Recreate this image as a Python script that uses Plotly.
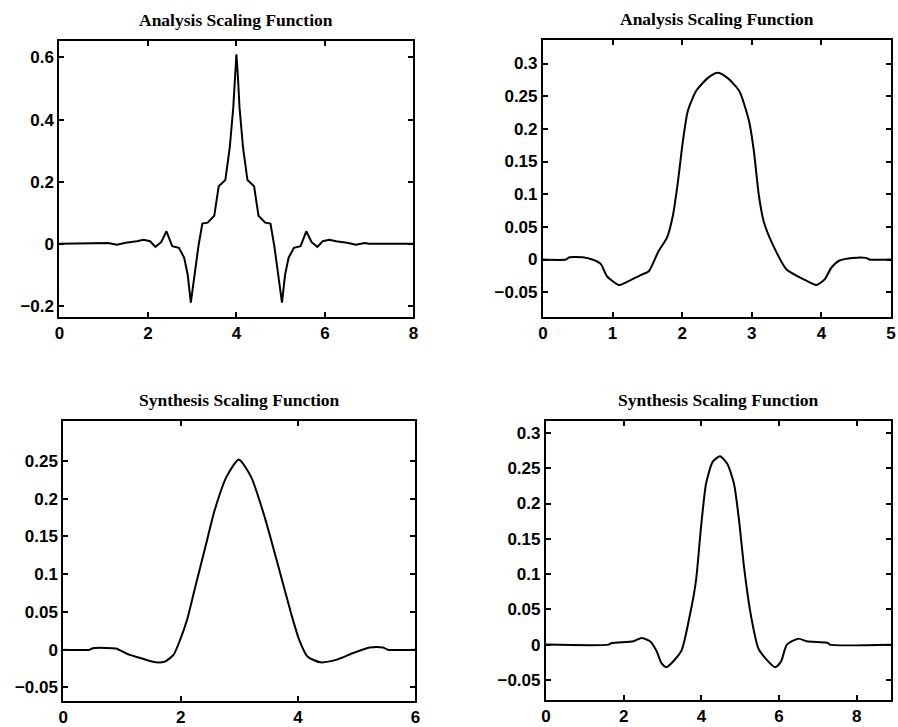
import plotly.graph_objects as go

W, H = 898, 727

# ---- data ----
a1_x = [0, 0.5, 1.0, 1.1, 1.3, 1.5, 1.75, 1.9, 2.05, 2.17, 2.3, 2.42, 2.55, 2.7, 2.82, 2.9, 2.97,
        3.05, 3.14, 3.23, 3.35, 3.5, 3.6, 3.75, 3.85, 3.93, 3.97, 4.0, 4.03, 4.07, 4.15, 4.25, 4.4,
        4.5, 4.65, 4.77, 4.86, 4.95, 5.03, 5.1, 5.18, 5.3, 5.45, 5.58, 5.7, 5.83, 5.95, 6.1, 6.25,
        6.5, 6.7, 6.9, 7.0, 8.0]
a1_y = [0, 0, 0, 0.002, -0.003, 0.003, 0.008, 0.013, 0.008, -0.01, 0.005, 0.040, -0.008, -0.013,
        -0.045, -0.10, -0.19, -0.10, -0.01, 0.065, 0.068, 0.09, 0.185, 0.205, 0.31, 0.44, 0.55, 0.61,
        0.55, 0.44, 0.31, 0.205, 0.185, 0.09, 0.068, 0.065, -0.01, -0.10, -0.19, -0.10, -0.045,
        -0.013, -0.008, 0.040, 0.005, -0.01, 0.008, 0.013, 0.008, 0.003, -0.003, 0.002, 0, 0]

a2_x = [0, 0.33, 0.38, 0.57, 0.71, 0.83, 0.92, 1.09, 1.23, 1.42, 1.52, 1.66, 1.78, 1.87, 1.94, 2.01,
        2.08, 2.20, 2.37, 2.51, 2.65, 2.82, 2.96, 3.03, 3.10, 3.17, 3.29, 3.50, 3.74, 3.93, 4.05,
        4.14, 4.26, 4.45, 4.64, 4.69, 5.0]
a2_y = [0, 0, 0.0035, 0.0035, 0, -0.0067, -0.0256, -0.039, -0.033, -0.023, -0.018, 0.0127, 0.033,
        0.069, 0.12, 0.181, 0.227, 0.258, 0.278, 0.286, 0.278, 0.258, 0.212, 0.166, 0.0995, 0.0587,
        0.0255, -0.0153, -0.030, -0.039, -0.030, -0.013, -0.0015, 0.0025, 0.0025, 0, 0]

s1_x = [0, 0.45, 0.5, 0.84, 0.9, 1.12, 1.35, 1.57, 1.74, 1.88, 1.99, 2.11, 2.25, 2.42, 2.58, 2.78,
        2.99, 3.20, 3.43, 3.65, 3.88, 4.02, 4.16, 4.38, 4.66, 4.94, 5.22, 5.45, 5.53, 6.0]
s1_y = [0, 0, 0.002, 0.002, 0.0015, -0.0066, -0.012, -0.0167, -0.0154, -0.0066, 0.013, 0.04, 0.0837,
        0.136, 0.185, 0.229, 0.252, 0.229, 0.176, 0.1145, 0.0485, 0.013, -0.009, -0.0167, -0.0132,
        -0.0044, 0.003, 0.003, 0, 0]

s2_x = [0, 1.61, 1.70, 2.25, 2.46, 2.68, 2.85, 2.97, 3.10, 3.48, 3.69, 3.86, 3.99, 4.12, 4.29, 4.48,
        4.67, 4.84, 4.97, 5.10, 5.27, 5.48, 5.90, 6.05, 6.20, 6.50, 6.71, 7.26, 7.30, 8.93]
s2_y = [0, 0, 0.0024, 0.0047, 0.0094, 0.0047, -0.0095, -0.026, -0.032, -0.0095, 0.038, 0.090, 0.166,
        0.228, 0.259, 0.267, 0.256, 0.228, 0.176, 0.109, 0.043, -0.007, -0.032, -0.024, 0, 0.0085,
        0.0047, 0.0024, 0, 0]

titles = ["Analysis Scaling Function", "Analysis Scaling Function",
          "Synthesis Scaling Function", "Synthesis Scaling Function"]

a1_xticks = [0, 2, 4, 6, 8]
a1_yticks = [-0.2, 0, 0.2, 0.4, 0.6]
a1_ylabels = ["\u22120.2", "0", "0.2", "0.4", "0.6"]
a2_xticks = [0, 1, 2, 3, 4, 5]
a2_yticks = [-0.05, 0, 0.05, 0.1, 0.15, 0.2, 0.25, 0.3]
a2_ylabels = ["\u22120.05", "0", "0.05", "0.1", "0.15", "0.2", "0.25", "0.3"]
s1_xticks = [0, 2, 4, 6]
s1_yticks = [-0.05, 0, 0.05, 0.1, 0.15, 0.2, 0.25]
s1_ylabels = ["\u22120.05", "0", "0.05", "0.1", "0.15", "0.2", "0.25"]
s2_xticks = [0, 2, 4, 6, 8]
s2_yticks = [-0.05, 0, 0.05, 0.1, 0.15, 0.2, 0.25, 0.3]
s2_ylabels = ["\u22120.05", "0", "0.05", "0.1", "0.15", "0.2", "0.25", "0.3"]

# ---- layout (pixel boxes in the page) ----
boxes = [(55, 413, 41, 317), (544, 896, 40, 317), (59, 415, 421, 701), (547, 896, 421, 700)]
xranges = [[0, 8], [0, 5.0], [0, 6], [0, 8.88]]
yranges = [[-0.236, 0.653], [-0.088, 0.336], [-0.068, 0.303], [-0.0785, 0.317]]
series = [(a1_x, a1_y), (a2_x, a2_y), (s1_x, s1_y), (s2_x, s2_y)]
shapes = ["linear", "spline", "spline", "spline"]
xt = [a1_xticks, a2_xticks, s1_xticks, s2_xticks]
yt = [(a1_yticks, a1_ylabels), (a2_yticks, a2_ylabels), (s1_yticks, s1_ylabels), (s2_yticks, s2_ylabels)]

fig = go.Figure()
tick_font = dict(family="Liberation Sans, Arial, sans-serif", size=17, color="black", weight="bold")
annotations = []
for i in range(4):
    xs, ys = series[i]
    sfx = "" if i == 0 else str(i + 1)
    line = dict(color="black", width=2, shape=shapes[i])
    if shapes[i] == "spline":
        line["smoothing"] = 0.6
    fig.add_trace(go.Scatter(x=xs, y=ys, mode="lines", xaxis="x" + sfx, yaxis="y" + sfx,
                             line=line, showlegend=False, hoverinfo="skip"))
    l, r, t, b = boxes[i]
    common = dict(showline=True, linecolor="black", linewidth=2, mirror="ticks",
                  ticks="inside", ticklen=5, tickwidth=1.5, tickcolor="black",
                  showgrid=False, zeroline=False, tickfont=tick_font)
    fig.layout["xaxis" + sfx] = dict(domain=[l / W, r / W], range=xranges[i], anchor="y" + sfx,
                                     tickmode="array", tickvals=xt[i],
                                     ticktext=[str(v) for v in xt[i]], **common)
    fig.layout["yaxis" + sfx] = dict(domain=[1 - b / H, 1 - t / H], range=yranges[i], anchor="x" + sfx,
                                     tickmode="array", tickvals=yt[i][0], ticktext=yt[i][1], **common)
    annotations.append(dict(text="<b>" + titles[i] + "</b>", x=(l + r) / 2 / W, y=1 - (t - 21) / H,
                            xref="paper", yref="paper", showarrow=False, xanchor="center", yanchor="middle",
                            font=dict(family="Liberation Serif, Times New Roman, serif", size=17.5,
                                      color="black")))

fig.update_layout(width=W, height=H, margin=dict(l=0, r=0, t=0, b=0),
                  plot_bgcolor="white", paper_bgcolor="white", annotations=annotations,
                  hovermode=False)

# remove the default 8 px page margin so the figure fills the window exactly
page_css = ("document.body.style.margin='0';document.body.style.overflow='hidden';"
            "document.documentElement.style.overflow='hidden';")
fig.write_html("out.html", post_script=page_css, config={"displayModeBar": False})
